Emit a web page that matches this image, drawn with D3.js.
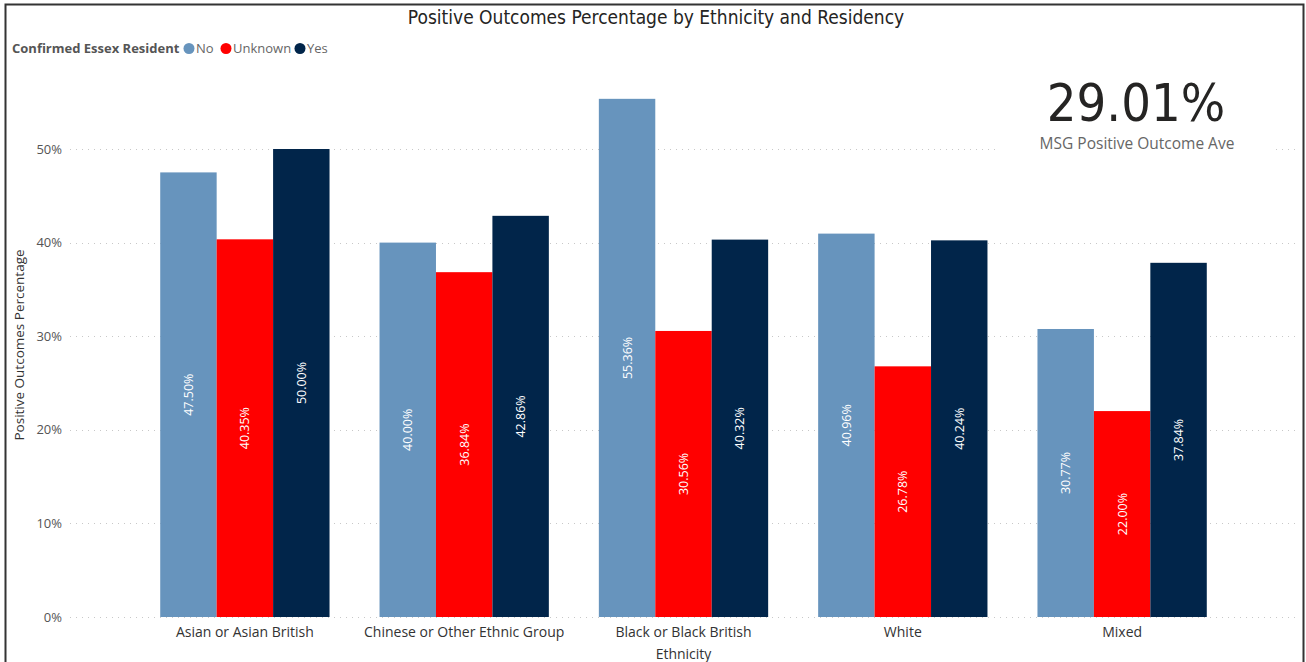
<!DOCTYPE html>
<html lang="en">
<head>
  <meta charset="UTF-8" />
  <title>Positive Outcomes Percentage by Ethnicity and Residency</title>
  <script src="https://d3js.org/d3.v7.min.js"></script>
  <style>
    body {
      margin: 0;
      background: #fff;
      font-family: "Open Sans", "Noto Sans", sans-serif;
    }
    svg { display: block; }
  </style>
</head>
<body>
  <div id="chart"></div>

  <script>
    // Data
    const ethnicities = ["Asian or Asian British", "Chinese or Other Ethnic Group", "Black or Black British", "White", "Mixed"];
    const residency = ["No", "Unknown", "Yes"];
    const noValues = [47.50, 40.00, 55.36, 40.96, 30.77];
    const unknownValues = [40.35, 36.84, 30.56, 26.78, 22.00];
    const yesValues = [50.00, 42.86, 40.32, 40.24, 37.84];
    const yTicks = [0, 10, 20, 30, 40, 50];
    const kpiValue = "29.01%";
    const kpiLabel = "MSG Positive Outcome Ave";

    const colors = { No: "#6794bd", Unknown: "#ff0000", Yes: "#01254a" };
    const seriesValues = { No: noValues, Unknown: unknownValues, Yes: yesValues };

    const width = 1306, height = 662;
    const svg = d3.select("#chart").append("svg")
      .attr("width", width)
      .attr("height", height);

    // frame
    svg.append("path")
      .attr("d", `M5.5,${height} V4.5 H1303.5 V${height}`)
      .attr("fill", "none")
      .attr("stroke", "#333")
      .attr("stroke-width", 2);

    const x0 = d3.scaleBand()
      .domain(ethnicities)
      .range([135, 1232])
      .paddingInner(0.228)
      .paddingOuter(0.115);

    const x1 = d3.scaleBand()
      .domain(residency)
      .range([0, x0.bandwidth()]);

    const y = d3.scaleLinear()
      .domain([0, 50])
      .range([617, 149]);

    // gridlines
    svg.append("g")
      .selectAll("line")
      .data(yTicks)
      .enter()
      .append("line")
      .attr("x1", 70)
      .attr("x2", 1298)
      .attr("y1", d => Math.round(y(d)) + 0.5)
      .attr("y2", d => Math.round(y(d)) + 0.5)
      .attr("stroke", "#c8c8c8")
      .attr("stroke-width", 1)
      .attr("stroke-dasharray", "1,5");

    // y axis labels
    const yAxis = svg.append("g")
      .attr("transform", "translate(62,0)")
      .call(d3.axisLeft(y).tickValues(yTicks).tickFormat(d => d + "%").tickSize(0).tickPadding(0));
    yAxis.select(".domain").remove();
    yAxis.selectAll("text")
      .attr("fill", "#555")
      .style("font-size", "13px")
      .style("font-family", "'Open Sans', sans-serif");

    svg.append("text")
      .attr("transform", "translate(24,345) rotate(-90)")
      .attr("text-anchor", "middle")
      .attr("fill", "#333")
      .style("font-size", "13.5px")
      .text("Positive Outcomes Percentage");

    // bars
    const groups = svg.append("g")
      .selectAll("g")
      .data(ethnicities)
      .enter()
      .append("g")
      .attr("transform", d => `translate(${x0(d)},0)`);

    groups.selectAll("rect")
      .data((d, i) => residency.map(r => ({ key: r, value: seriesValues[r][i] })))
      .enter()
      .append("rect")
      .attr("x", d => x1(d.key))
      .attr("y", d => y(d.value))
      .attr("width", x1.bandwidth())
      .attr("height", d => y(0) - y(d.value))
      .attr("fill", d => colors[d.key]);

    groups.selectAll("text")
      .data((d, i) => residency.map(r => ({ key: r, value: seriesValues[r][i] })))
      .enter()
      .append("text")
      .attr("transform", d => `translate(${x1(d.key) + x1.bandwidth() / 2 + 4.5},${(y(d.value) + y(0)) / 2}) rotate(-90)`)
      .attr("text-anchor", "middle")
      .attr("fill", "#fff")
      .style("font-size", "12.5px")
      .text(d => d.value.toFixed(2) + "%");

    // x axis labels
    const xAxis = svg.append("g")
      .attr("transform", "translate(0,627)")
      .call(d3.axisBottom(x0).tickSize(0).tickPadding(0));
    xAxis.select(".domain").remove();
    xAxis.selectAll("text")
      .attr("fill", "#333")
      .style("font-size", "14px")
      .style("font-family", "'Open Sans', sans-serif");

    svg.append("text")
      .attr("x", x0("Black or Black British") + x0.bandwidth() / 2)
      .attr("y", 659)
      .attr("text-anchor", "middle")
      .attr("fill", "#333")
      .style("font-size", "14px")
      .text("Ethnicity");

    // title
    svg.append("text")
      .attr("x", 656)
      .attr("y", 24)
      .attr("text-anchor", "middle")
      .attr("fill", "#252423")
      .style("font-family", "'DejaVu Sans Condensed', 'Roboto', sans-serif")
      .style("font-size", "19px")
      .text("Positive Outcomes Percentage by Ethnicity and Residency");

    // legend
    const legend = svg.append("g").attr("transform", "translate(12,53)");
    legend.append("text")
      .attr("x", 0)
      .attr("y", 0)
      .attr("fill", "#555")
      .style("font-size", "13px")
      .style("font-weight", "bold")
      .text("Confirmed Essex Resident");
    const legendX = [196, 233, 307];
    residency.forEach((r, i) => {
      legend.append("circle")
        .attr("cx", legendX[i] - 19)
        .attr("cy", -4.5)
        .attr("r", 5.5)
        .attr("fill", colors[r]);
      legend.append("text")
        .attr("x", legendX[i] - 12)
        .attr("y", 0)
        .attr("fill", "#666")
        .style("font-size", "13px")
        .text(r);
    });

    // KPI card
    svg.append("rect")
      .attr("x", 1000)
      .attr("y", 62)
      .attr("width", 275)
      .attr("height", 100)
      .attr("fill", "#fff");
    svg.append("text")
      .attr("x", 1136)
      .attr("y", 121)
      .attr("text-anchor", "middle")
      .attr("fill", "#252423")
      .style("font-family", "'DejaVu Sans Condensed', 'Roboto', sans-serif")
      .style("font-size", "52px")
      .text(kpiValue);
    svg.append("text")
      .attr("x", 1137)
      .attr("y", 149)
      .attr("text-anchor", "middle")
      .attr("fill", "#666")
      .style("font-size", "15.5px")
      .text(kpiLabel);
  </script>
</body>
</html>
